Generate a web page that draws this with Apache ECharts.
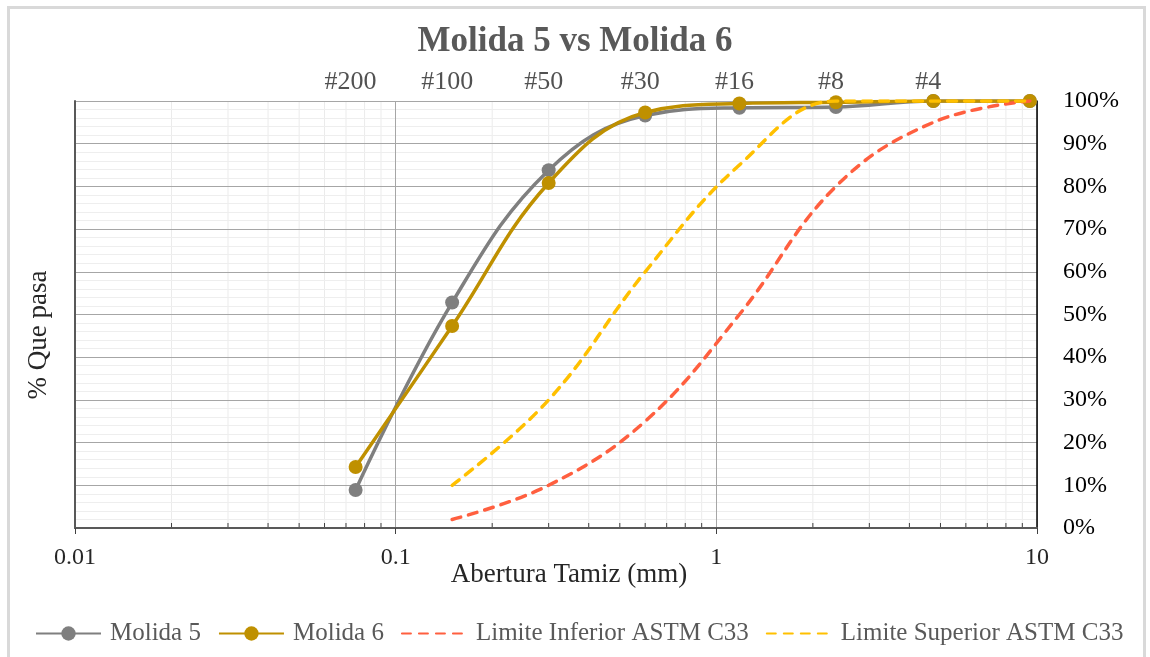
<!DOCTYPE html>
<html>
<head>
<meta charset="utf-8">
<script src="https://cdn.jsdelivr.net/npm/echarts@6/dist/echarts.min.js"></script>
<style>html,body{margin:0;padding:0;background:#fff;}#c{width:1150px;height:657px;}</style>
</head>
<body>
<div id="c"></div>
<script>
// ---- data ----
const sieveSizes = [0.075, 0.15, 0.3, 0.6, 1.18, 2.36, 4.75, 9.5];
const sieveLabels = ['#200', '#100', '#50', '#30', '#16', '#8', '#4'];
const molida5 = [8.9, 52.8, 83.8, 96.6, 98.4, 98.6, 100, 100];
const molida6 = [14.3, 47.3, 80.8, 97.3, 99.4, 99.7, 100, 100];
const limitSizes = [0.15, 0.3, 0.6, 1.18, 2.36, 4.75, 9.5];
const limiteInferior = [2, 10, 25, 50, 80, 95, 100];
const limiteSuperior = [10, 30, 60, 85, 100, 100, 100];
const xTickLabels = ['0.01', '0.1', '1', '10'];
// minor vertical grid positions for the log axis (2..9 of each decade)
const minorX = [];
[0.01, 0.1, 1].forEach(d => { for (let k = 2; k <= 9; k++) minorX.push([+(k * d).toPrecision(3), 0]); });

const FONT = 'Liberation Serif';
const pair = (xs, ys) => xs.map((x, i) => [x, ys[i]]);

const chart = echarts.init(document.getElementById('c'), null, {renderer: 'canvas'});
chart.setOption({
  animation: false,
  backgroundColor: '#fff',
  title: {
    text: 'Molida 5 vs Molida 6', left: 'center', top: 19,
    textStyle: {fontFamily: FONT, fontSize: 35, fontWeight: 'bold', color: '#595959'}
  },
  graphic: [
    {type: 'rect', shape: {x: 8.5, y: 7.5, width: 1136, height: 662}, style: {fill: 'none', stroke: '#d9d9d9', lineWidth: 3}, silent: true},
    {type: 'text', x: 39, y: 335, rotation: Math.PI / 2,
     style: {text: '% Que pasa', fontFamily: FONT, fontSize: 27, fill: '#262626', align: 'center', verticalAlign: 'middle'}}
  ],
  legend: {
    left: 30, top: 616, itemWidth: 65, itemHeight: 18, itemGap: 17,
    data: [
      {name: 'Molida 5'},
      {name: 'Molida 6'},
      {name: 'Limite Inferior ASTM C33', itemStyle: {color: 'rgba(0,0,0,0)', borderWidth: 0}},
      {name: 'Limite Superior ASTM C33', itemStyle: {color: 'rgba(0,0,0,0)', borderWidth: 0}}
    ],
    textStyle: {fontFamily: FONT, fontSize: 25, color: '#595959', padding: [0, 0, 0, 4]}
  },
  grid: {left: 75, right: 113, top: 101, bottom: 129, containLabel: false, outerBoundsMode: 'none'},
  xAxis: [{
    type: 'log', logBase: 10, min: 0.01, max: 10, position: 'bottom',
    name: 'Abertura Tamiz (mm)', nameLocation: 'middle', nameGap: 33, nameMoveOverlap: false,
    nameTextStyle: {fontFamily: FONT, fontSize: 27, color: '#262626', padding: [0, 0, 0, 26]},
    axisLine: {show: true, lineStyle: {color: '#595959', width: 1.5}},
    axisTick: {show: true, length: 6, lineStyle: {color: '#404040'}},
    axisLabel: {fontFamily: FONT, fontSize: 24, color: '#262626', margin: 18,
      formatter: v => { const i = Math.round(Math.log10(v)) + 2; return xTickLabels[i] !== undefined ? xTickLabels[i] : ''; }},
    splitLine: {show: true, lineStyle: {color: '#a6a6a6', width: 1}}
  }, {
    type: 'log', logBase: 10, min: 0.01, max: 10, position: 'top',
    axisLine: {show: true, lineStyle: {color: '#595959', width: 2}},
    axisTick: {show: false}, axisLabel: {show: false}, splitLine: {show: false}
  }],
  yAxis: [{
    type: 'value', min: 0, max: 100, interval: 10, position: 'right',
    axisLine: {show: true, lineStyle: {color: '#000', width: 1.5}},
    axisTick: {show: false},
    axisLabel: {formatter: '{value}%', fontFamily: FONT, fontSize: 24, color: '#000', margin: 26},
    splitLine: {show: true, lineStyle: {color: '#a6a6a6', width: 1}},
    minorTick: {show: false, splitNumber: 5},
    minorSplitLine: {show: true, lineStyle: {color: '#eeeeee', width: 1}}
  }, {
    type: 'value', min: 0, max: 100, position: 'left',
    axisLine: {show: true, lineStyle: {color: '#595959', width: 2}},
    axisTick: {show: false}, axisLabel: {show: false}, splitLine: {show: false}
  }],
  series: [
    {
      type: 'custom', name: 'minorGrid', silent: true, z: -1, xAxisIndex: 0, yAxisIndex: 0,
      data: minorX, encode: {x: 0, y: 1},
      renderItem: (params, api) => {
        const x = api.coord([api.value(0), 0])[0];
        const cs = params.coordSys;
        return {type: 'group', children: [
          {type: 'line', shape: {x1: x, y1: cs.y, x2: x, y2: cs.y + cs.height}, style: {stroke: '#ebebeb', lineWidth: 1}},
          {type: 'line', shape: {x1: x, y1: cs.y + cs.height, x2: x, y2: cs.y + cs.height - 5}, style: {stroke: '#404040', lineWidth: 1}}
        ]};
      }
    },
    {
      name: 'Molida 5', type: 'line', data: pair(sieveSizes, molida5), smooth: 0.4,
      symbol: 'circle', symbolSize: 14, color: '#7f7f7f',
      lineStyle: {width: 3.5, color: '#7f7f7f'}, itemStyle: {color: '#7f7f7f'}, z: 3
    },
    {
      name: 'Molida 6', type: 'line', data: pair(sieveSizes, molida6), smooth: 0.4,
      symbol: 'circle', symbolSize: 14, color: '#bf9000',
      lineStyle: {width: 3.5, color: '#bf9000'}, itemStyle: {color: '#bf9000'}, z: 4
    },
    {
      name: 'Limite Inferior ASTM C33', type: 'line', data: pair(limitSizes, limiteInferior), smooth: 0.4,
      symbol: 'none', color: '#ff5f3f',
      lineStyle: {width: 3.5, color: '#ff5f3f', type: [9, 8], cap: 'round'}, z: 5
    },
    {
      name: 'Limite Superior ASTM C33', type: 'line', data: pair(limitSizes, limiteSuperior), smooth: 0.4,
      symbol: 'none', color: '#ffc000',
      lineStyle: {width: 3.5, color: '#ffc000', type: [9, 8], cap: 'round'}, z: 5
    },
    {
      name: 'sieves', type: 'scatter', symbolSize: 0, silent: true,
      data: sieveLabels.map((l, i) => ({value: [sieveSizes[i], 100], name: l})),
      label: {show: true, position: 'top', distance: 6, offset: [-5, 0], formatter: p => p.name,
        fontFamily: FONT, fontSize: 26, color: '#262626'}
    }
  ]
});
</script>
</body>
</html>
